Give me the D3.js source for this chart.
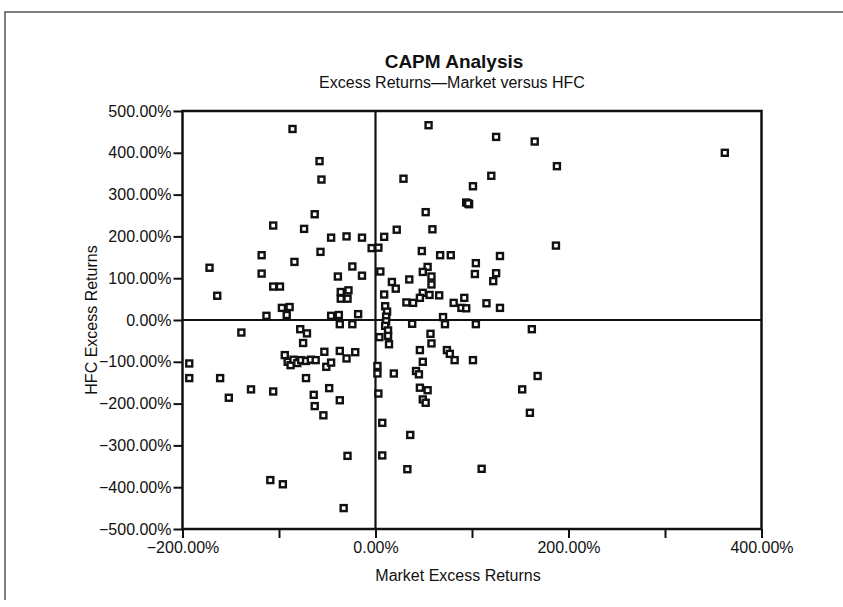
<!DOCTYPE html>
<html>
<head>
<meta charset="utf-8">
<script src="https://cdn.jsdelivr.net/npm/d3@7"></script>
<style>
  html, body { margin: 0; padding: 0; background: #fff; }
  svg { display: block; font-family: "Liberation Sans", Arial, sans-serif; }
</style>
</head>
<body>
<svg id="chart" width="843" height="607"></svg>
<script>
const chartTitle = "CAPM Analysis";
const chartSubtitle = "Excess Returns\u2014Market versus HFC";
const xAxisLabel = "Market Excess Returns";
const yAxisLabel = "HFC Excess Returns";
const xTicks = [-200, -100, 0, 100, 200, 300, 400];
const xTickLabels = ["\u2212200.00%", "", "0.00%", "", "200.00%", "", "400.00%"];
const yTicks = [-500, -400, -300, -200, -100, 0, 100, 200, 300, 400, 500];

// Market excess return (%) for each observation
const marketExcess = [
  -86,-58,-56,-63,-106,-74,-46,-30,-14,-4,-57,-118,-172,-84,-24,-118,-39,-14,-164,-106,-99,-36,-28,-36,-29,-97,-89,-113,-92,-46,-38,-18,
  3,55,125,165,188,29,120,101,94,97,96,52,22,59,9,48,67,78,129,187,5,54,49,58,104,103,125,122,35,17,21,58,9,49,56,66,46,32,39,81,92,89,94,115,129,70,362,
  10,12,11,11,10,13,13,4,14,
  -139,-78,-71,-75,-193,-193,-94,-91,-88,-85,-81,-77,-72,-67,-62,-53,-37,-30,-21,-51,-46,-72,-161,-129,-152,-106,-64,-63,-48,-54,-37,-29,-109,-96,-33,-37,-24,
  72,38,104,162,57,58,46,49,74,77,82,101,42,45,2,2,19,168,152,46,54,49,52,3,160,7,36,7,33,110
];
// HFC excess return (%) for each observation
const hfcExcess = [
  457,380,336,253,226,218,197,200,197,172,163,155,125,139,128,111,104,106,58,80,80,67,71,51,51,29,31,10,12,10,12,14,
  173,466,438,427,368,338,345,320,281,277,279,258,216,217,199,165,155,155,153,178,116,127,115,104,136,110,112,93,97,91,75,85,61,65,60,59,53,42,41,41,53,29,28,40,29,7,400,
  33,20,8,-3,-14,-25,-38,-41,-58,
  -30,-22,-32,-55,-104,-139,-84,-100,-108,-95,-103,-96,-98,-95,-96,-76,-74,-92,-77,-112,-102,-139,-139,-166,-186,-171,-179,-206,-163,-228,-192,-325,-383,-393,-450,-10,-10,
  -10,-9,-10,-22,-33,-56,-72,-100,-72,-81,-96,-96,-122,-130,-110,-128,-128,-134,-166,-162,-168,-190,-198,-176,-222,-246,-275,-324,-357,-356
];

const svg = d3.select("#chart");
const plot = { left: 182.5, right: 761.5, top: 111, bottom: 529 };
const FONT = "'Liberation Sans', Arial, sans-serif";

const x = d3.scaleLinear().domain([-200, 400]).range([plot.left, plot.right]);
const y = d3.scaleLinear().domain([-500, 500]).range([plot.bottom, plot.top]);

// outer page frame (scan border)
svg.append("path")
  .attr("d", `M5,600 L5,12 L843,12`)
  .attr("fill", "none").attr("stroke", "#555").attr("stroke-width", 1.5);

// titles
svg.append("text").attr("x", 454).attr("y", 68).attr("text-anchor", "middle")
  .attr("font-size", 19).attr("font-weight", "bold").attr("fill", "#111").text(chartTitle);
svg.append("text").attr("x", 452).attr("y", 88).attr("text-anchor", "middle")
  .attr("font-size", 16).attr("fill", "#111").text(chartSubtitle);

// axes
const xAxis = d3.axisBottom(x).tickValues(xTicks).tickSize(9).tickPadding(4)
  .tickFormat((d, i) => xTickLabels[i]);
const gx = svg.append("g").attr("transform", `translate(0,${plot.bottom})`).call(xAxis);
gx.select(".domain").remove();
gx.selectAll(".tick line").attr("stroke", "#111").attr("stroke-width", 2);
gx.selectAll(".tick text").attr("font-size", 16).attr("fill", "#111").attr("font-family", FONT);

const yAxis = d3.axisLeft(y).tickValues(yTicks).tickSize(9).tickPadding(2)
  .tickFormat(d => d3.format(".2f")(d) + "%");
const gy = svg.append("g").attr("transform", `translate(${plot.left},0)`).call(yAxis);
gy.select(".domain").remove();
gy.selectAll(".tick line").attr("stroke", "#111").attr("stroke-width", 2);
gy.selectAll(".tick text").attr("font-size", 16).attr("fill", "#111").attr("font-family", FONT);

// plot frame
svg.append("rect")
  .attr("x", plot.left).attr("y", plot.top)
  .attr("width", plot.right - plot.left).attr("height", plot.bottom - plot.top)
  .attr("fill", "none").attr("stroke", "#111").attr("stroke-width", 2.5);

// zero lines
svg.append("line").attr("x1", x(0)).attr("x2", x(0)).attr("y1", plot.top).attr("y2", plot.bottom)
  .attr("stroke", "#111").attr("stroke-width", 2.2);
svg.append("line").attr("x1", plot.left).attr("x2", plot.right).attr("y1", y(0)).attr("y2", y(0))
  .attr("stroke", "#111").attr("stroke-width", 2.2);

// axis titles
svg.append("text").attr("x", 458).attr("y", 581).attr("text-anchor", "middle")
  .attr("font-size", 16).attr("fill", "#111").text(xAxisLabel);
svg.append("text").attr("transform", `translate(97,${y(0)}) rotate(-90)`).attr("text-anchor", "middle")
  .attr("font-size", 16).attr("fill", "#111").text(yAxisLabel);

// points
const pts = marketExcess.map((m, i) => ({ m, h: hfcExcess[i] }));
svg.append("g").selectAll("rect").data(pts).join("rect")
  .attr("x", d => x(d.m) - 3)
  .attr("y", d => y(d.h) - 3)
  .attr("width", 6).attr("height", 6)
  .attr("fill", "#fff").attr("stroke", "#111").attr("stroke-width", 2.4);
</script>
</body>
</html>
